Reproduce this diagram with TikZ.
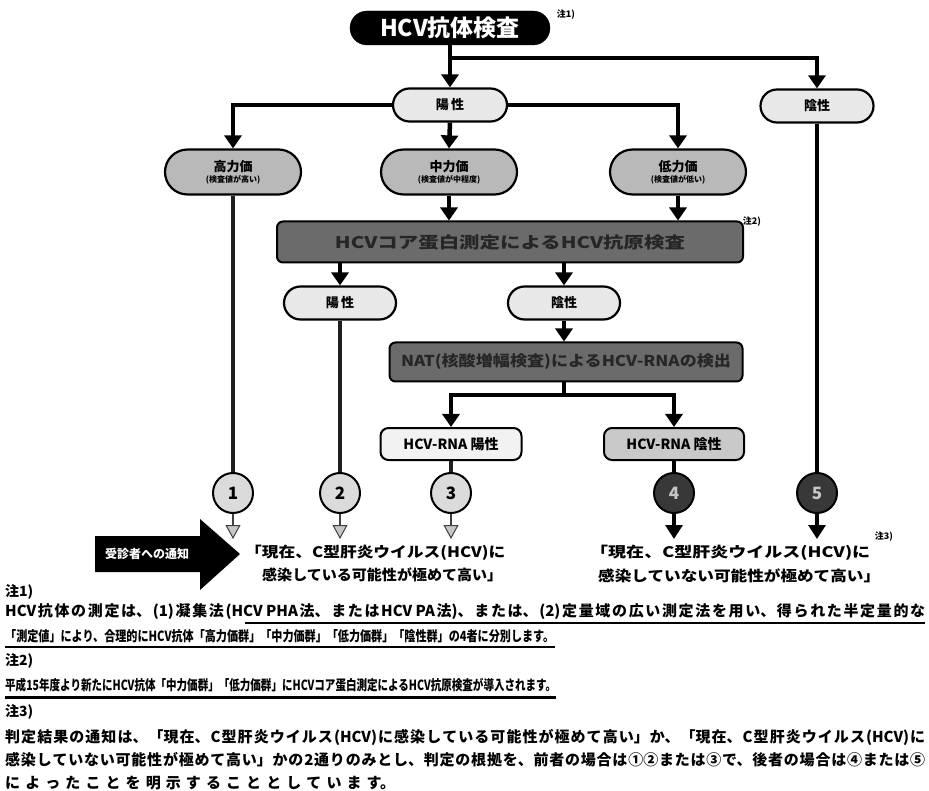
\documentclass[tikz,border=0pt]{standalone}
\usepackage{fontspec}
\setmainfont{Noto Sans CJK JP}
\usetikzlibrary{arrows.meta,shapes.misc}
\newcommand{\fitw}[2]{\resizebox{#1}{\height}{#2}}
\newcommand{\fs}[1]{\fontsize{#1}{#1}\selectfont}
\newcommand{\jline}[2]{\parbox{#1}{\XeTeXlinebreaklocale "ja"\XeTeXlinebreakskip=0pt plus 2fil\relax
  \parfillskip=0pt\relax\noindent #2}}
\tikzset{
  x=1pt,y=-1pt,
  lightpill/.style={rounded rectangle, draw=black, line width=2.2pt, fill=gray!18,
     font=\bfseries\fs{13}, minimum height=33pt, minimum width=114pt, inner sep=0pt},
  graypill/.style={rounded rectangle, draw=black, line width=2.2pt, fill=gray!55,
     font=\bfseries, minimum height=45pt, minimum width=136pt, inner sep=0pt, align=center},
  darkbox/.style={rectangle, rounded corners=6pt, draw=black, line width=2pt, fill=black!58,
     text=black!85, font=\bfseries, inner sep=0pt},
  rnabox/.style={rectangle, rounded corners=8pt, draw=black, line width=2pt,
     minimum width=141pt, minimum height=32pt, inner sep=0pt, font=\bfseries\fs{14}},
  numlight/.style={circle, draw=black, line width=2pt, fill=gray!28, minimum size=40pt,
     inner sep=0pt, font=\bfseries\fs{17}},
  numdark/.style={circle, draw=black, line width=2pt, fill=black!78, text=gray!45,
     minimum size=40pt, inner sep=0pt, font=\bfseries\fs{17}},
  mainline/.style={draw=black, line width=4.5pt},
  mainarrow/.style={draw=black, line width=4.5pt, -{Triangle[width=17pt,length=13pt]}},
  greyline/.style={draw=black!88, line width=3.2pt},
  thinarrow/.style={draw=black!75, line width=2pt,
     -{Triangle[width=15pt,length=14pt,fill=gray!45,line width=1pt]}},
  blackarrow/.style={draw=black, line width=3.2pt, -{Triangle[width=17pt,length=14pt]}},
  notemark/.style={font=\bfseries\fs{9}, inner sep=0pt},
  notetext/.style={anchor=west, font=\bfseries\fs{14}, inner sep=0pt},
  bignote/.style={anchor=west, font=\bfseries\fs{15}, inner sep=0pt},
  result/.style={anchor=west, font=\bfseries\fs{14.5}, inner sep=0pt},
}
\begin{document}
\begin{tikzpicture}
\useasboundingbox[fill=white] (0,0) rectangle (929,791);

% top
\node[rounded rectangle, fill=black, draw=black, minimum width=200pt, minimum height=34pt,
      text=white, font=\bfseries\fs{23}, inner sep=0pt] (top) at (450,28) {HCV抗体検査};
\node[notemark] (n1) at (566,15) {注1)};

\node[lightpill] (pos1) at (450,105) {陽\,性};
\node[lightpill, minimum width=113pt] (neg1) at (817,106) {陰性};

\node[graypill] (high) at (233,172) {{\fs{13}高力価}\\[-1pt]{\fs{8}(検査値が高い)}};
\node[graypill] (mid) at (449,172) {{\fs{13}中力価}\\[-1pt]{\fs{8}(検査値が中程度)}};
\node[graypill] (low) at (678,172) {{\fs{13}低力価}\\[-1pt]{\fs{8}(検査値が低い)}};

\node[darkbox, minimum width=466pt, minimum height=41pt] (core) at (510,242)
   {\fitw{350pt}{\fs{16}HCVコア蛋白測定によるHCV抗原検査}};
\node[notemark] (n2) at (752,222) {注2)};

\node[lightpill, minimum width=112pt] (pos2) at (340,303) {陽\,性};
\node[lightpill, minimum width=112pt] (neg2) at (564,303) {陰性};

\node[darkbox, minimum width=353pt, minimum height=39pt] (nat) at (566,362)
   {\fitw{330pt}{\fs{15}NAT(核酸増幅検査)によるHCV-RNAの検出}};

\node[rnabox, fill=gray!10] (rnap) at (451,444) {HCV-RNA 陽性};
\node[rnabox, fill=gray!42, minimum width=140pt] (rnan) at (674,444) {HCV-RNA 陰性};

\node[numlight] (c1) at (233,493) {1};
\node[numlight] (c2) at (340,493) {2};
\node[numlight] (c3) at (451,493) {3};
\node[numdark] (c4) at (674,493) {4};
\node[numdark] (c5) at (817,493) {5};

\coordinate (e1) at (233,539);
\coordinate (e2) at (340,539);
\coordinate (e3) at (451,539);
\coordinate (e4) at (674,539);
\coordinate (e5) at (817,539);

% connectors
\coordinate (j0) at (450,58);
\draw[mainarrow] (top.south) -- (pos1.north);
\draw[mainarrow] (j0) -| (neg1.north);
\draw[mainarrow] (pos1.west) -| (high.north);
\draw[mainarrow] (pos1.east) -| (low.north);
\draw[mainarrow] (pos1.south) -- (mid.north);
\draw[greyline] (high.south) -- (c1.north);
\draw[mainarrow] (mid.south) -- (mid.south |- core.north);
\draw[mainarrow] (low.south) -- (low.south |- core.north);
\draw[mainarrow] (core.south -| pos2) -- (pos2.north);
\draw[mainarrow] (core.south -| neg2) -- (neg2.north);
\draw[greyline] (pos2.south) -- (c2.north);
\draw[mainarrow] (neg2.south) -- (neg2.south |- nat.north);
\coordinate (j1) at (564,395);
\draw[mainline] (nat.south -| j1) -- (j1);
\draw[mainarrow] (j1) -| (rnap.north);
\draw[mainarrow] (j1) -| (rnan.north);
\draw[greyline] (rnap.south) -- (c3.north);
\draw[mainline] (rnan.south) -- (c4.north);
\draw[mainline] (neg1.south) -- (c5.north);

\draw[thinarrow] (c1.south) -- (e1);
\draw[thinarrow] (c2.south) -- (e2);
\draw[thinarrow] (c3.south) -- (e3);
\draw[blackarrow] (c4.south) -- (e4);
\draw[blackarrow] (c5.south) -- (e5);

% notification arrow
\fill[black] (95,536) -- (200,536) -- (200,519) -- (240,554) -- (200,590) -- (200,572) -- (95,572) -- cycle;
\node[text=white, font=\bfseries\fs{12}, inner sep=0pt] (notify) at (147,554) {受診者への通知};

% results
\node[result] (r1a) at (245,553) {\fitw{260pt}{「現在、C型肝炎ウイルス(HCV)に}};
\node[result] (r1b) at (262,575) {\fitw{240pt}{感染している可能性が極めて高い」}};
\node[result] (r2a) at (590,553) {\fitw{280pt}{「現在、C型肝炎ウイルス(HCV)に}};
\node[result] (r2b) at (598,576) {\fitw{282pt}{感染していない可能性が極めて高い」}};
\node[notemark] (n3) at (884,537) {注3)};

% notes
\node[notetext] (h1) at (5,592) {注1)};
\node[bignote] (t1) at (5,612) {\jline{920pt}{HCV抗体の測定は、(1)凝集法(HCV PHA法、またはHCV PA法)、または、(2)定量域の広い測定法を用い、得られた半定量的な}};
\node[notetext] (t2) at (5,636) {\fitw{549pt}{「測定値」により、合理的にHCV抗体「高力価群」「中力価群」「低力価群」「陰性群」の4者に分別します。}};
\node[notetext] (h2) at (5,661) {注2)};
\node[notetext] (t3) at (5,685) {\fitw{551pt}{平成15年度より新たにHCV抗体「中力価群」「低力価群」にHCVコア蛋白測定によるHCV抗原検査が導入されます。}};
\node[notetext] (h3) at (5,712) {注3)};
\node[bignote] (t4) at (5,737) {\jline{920pt}{判定結果の通知は、「現在、C型肝炎ウイルス(HCV)に感染している可能性が極めて高い」か、「現在、C型肝炎ウイルス(HCV)に}};
\node[bignote] (t5) at (5,760) {\jline{920pt}{感染していない可能性が極めて高い」かの2通りのみとし、判定の根拠を、前者の場合は①②または③で、後者の場合は④または⑤}};
\node[bignote] (t6) at (5,783) {\jline{390pt}{によったことを明示することとしています。}};

% underlines
\draw[black, line width=2pt] (245,623) -- (925,623);
\draw[black, line width=2pt] (5,647) -- (555,647);
\draw[black, line width=3pt] (5,697) -- (556,697);
\end{tikzpicture}
\end{document}
